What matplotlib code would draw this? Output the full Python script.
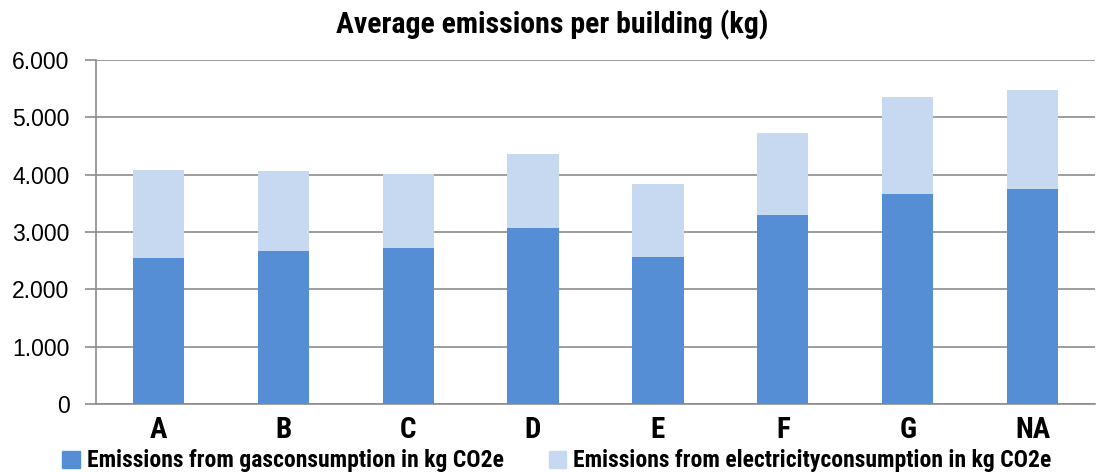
import matplotlib
matplotlib.use("Agg")
import matplotlib.pyplot as plt
from matplotlib.ticker import FuncFormatter
from matplotlib.patches import Patch

# Data (kg CO2e)
categories = ["A", "B", "C", "D", "E", "F", "G", "NA"]
gas = [2550, 2670, 2720, 3070, 2565, 3300, 3665, 3750]
total = [4080, 4065, 4010, 4360, 3840, 4725, 5355, 5475]
electricity = [t - g for t, g in zip(total, gas)]

GAS_COLOR = "#558ED5"
ELEC_COLOR = "#C6D9F1"
NARROW = ["Roboto Condensed", "DejaVu Sans"]
REG = ["Liberation Sans", "DejaVu Sans"]

fig = plt.figure(figsize=(11.05, 4.72), dpi=100)
ax = fig.add_axes([96 / 1105, 68 / 472, 999 / 1105, 344 / 472])

x = range(len(categories))
ax.bar(x, gas, width=0.41, color=GAS_COLOR, zorder=3)
ax.bar(x, electricity, bottom=gas, width=0.41, color=ELEC_COLOR, zorder=3)

ax.set_xlim(-0.5, len(categories) - 0.5)
ax.set_ylim(0, 6000)
ax.set_yticks(range(0, 6001, 1000))
ax.yaxis.set_major_formatter(FuncFormatter(lambda v, p: f"{int(v):,}".replace(",", ".")))
ax.grid(axis="y", color="#8c8c8c", linewidth=1.2, zorder=0)
for s in ["top", "right"]:
    ax.spines[s].set_visible(False)
ax.spines["left"].set_color("#8c8c8c")
ax.spines["bottom"].set_color("#8c8c8c")
ax.spines["left"].set_linewidth(1.2)
ax.spines["bottom"].set_linewidth(1.2)
ax.tick_params(axis="y", length=8, width=1.2, color="#8c8c8c", pad=11)
ax.tick_params(axis="x", length=0, pad=9)

ax.set_xticks(list(x))
ax.set_xticklabels(categories, fontfamily=NARROW, fontweight="bold", fontsize=21)
for lbl in ax.get_yticklabels():
    lbl.set_fontfamily(REG)
    lbl.set_fontsize(16.5)

fig.text(0.5, 1 - 25 / 472, "Average emissions per building (kg)", ha="center", va="center",
         fontfamily=NARROW, fontweight="bold", fontsize=21.5)

handles = [Patch(color=GAS_COLOR, label="Emissions from gasconsumption in kg CO2e"),
           Patch(color=ELEC_COLOR, label="Emissions from electricityconsumption in kg CO2e")]
fig.legend(handles=handles, loc="center", bbox_to_anchor=(0.504, 1 - 461 / 472), ncol=2,
           frameon=False, prop={"family": NARROW, "weight": "bold", "size": 17},
           handlelength=0.75, handleheight=0.75, handletextpad=0.3, columnspacing=1.9,
           borderpad=0)

fig.savefig("out.png", dpi=100)
